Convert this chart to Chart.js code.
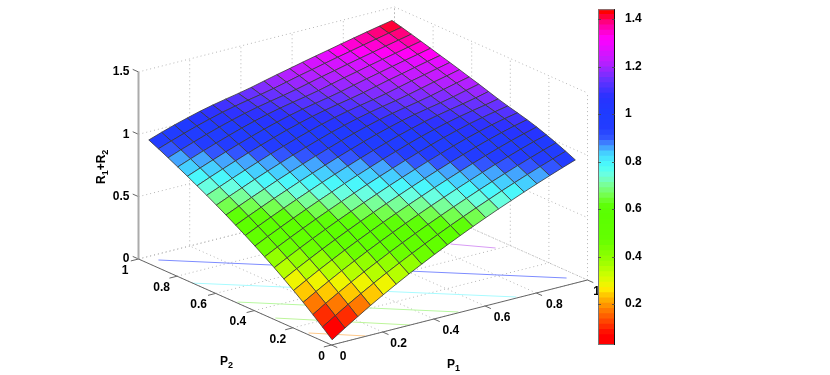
<!DOCTYPE html>
<html><head><meta charset="utf-8">
<style>
html,body{margin:0;padding:0;background:#fff;width:830px;height:375px;overflow:hidden}
canvas{position:absolute;top:0}
#main{left:0}
#bar{left:590px}
</style>
<script src="https://cdn.jsdelivr.net/npm/chart.js@4"></script>
</head><body>
<canvas id="main" width="830" height="375"></canvas>
<canvas id="bar" width="60" height="375"></canvas>
<script>
// ---- data ----
const p1Values = [0.01,0.06,0.11,0.16,0.21,0.26,0.31,0.36,0.41,0.46,0.51,0.56,0.61,0.66,0.71,0.76,0.81,0.86,0.91,0.96];
const p2Values = [0.01,0.06,0.11,0.16,0.21,0.26,0.31,0.36,0.41,0.46,0.51,0.56,0.61,0.66,0.71,0.76,0.81,0.86,0.91,0.96];
// rows: P2, columns: P1
const sumRate = [
[.030,.098,.163,.227,.287,.345,.401,.454,.506,.556,.604,.651,.696,.740,.782,.824,.864,.903,.941,.977],
[.098,.163,.227,.287,.345,.401,.454,.506,.556,.604,.651,.696,.740,.782,.824,.864,.903,.941,.977,1.012],
[.163,.227,.287,.345,.401,.454,.506,.556,.604,.651,.696,.740,.782,.824,.864,.903,.941,.977,1.012,1.045],
[.227,.287,.345,.401,.454,.506,.556,.604,.651,.696,.740,.782,.824,.864,.903,.941,.977,1.012,1.045,1.075],
[.287,.345,.401,.454,.506,.556,.604,.651,.696,.740,.782,.824,.864,.903,.941,.977,1.012,1.045,1.075,1.103],
[.345,.401,.454,.506,.556,.604,.651,.696,.740,.782,.824,.864,.903,.941,.977,1.012,1.045,1.075,1.103,1.127],
[.401,.454,.506,.556,.604,.651,.696,.740,.782,.824,.864,.903,.941,.977,1.012,1.045,1.075,1.103,1.127,1.148],
[.454,.506,.556,.604,.651,.696,.740,.782,.824,.864,.903,.941,.977,1.012,1.045,1.075,1.103,1.127,1.148,1.168],
[.506,.556,.604,.651,.696,.740,.782,.824,.864,.903,.941,.977,1.012,1.045,1.075,1.103,1.127,1.148,1.168,1.190],
[.556,.604,.651,.696,.740,.782,.824,.864,.903,.941,.977,1.012,1.045,1.075,1.103,1.127,1.148,1.168,1.190,1.215],
[.604,.651,.696,.740,.782,.824,.864,.903,.941,.977,1.012,1.045,1.075,1.103,1.127,1.148,1.168,1.190,1.215,1.240],
[.651,.696,.740,.782,.824,.864,.903,.941,.977,1.012,1.045,1.075,1.103,1.127,1.148,1.168,1.190,1.215,1.240,1.263],
[.696,.740,.782,.824,.864,.903,.941,.977,1.012,1.045,1.075,1.103,1.127,1.148,1.168,1.190,1.215,1.240,1.263,1.287],
[.740,.782,.824,.864,.903,.941,.977,1.012,1.045,1.075,1.103,1.127,1.148,1.168,1.190,1.215,1.240,1.263,1.287,1.310],
[.782,.824,.864,.903,.941,.977,1.012,1.045,1.075,1.103,1.127,1.148,1.168,1.190,1.215,1.240,1.263,1.287,1.310,1.332],
[.824,.864,.903,.941,.977,1.012,1.045,1.075,1.103,1.127,1.148,1.168,1.190,1.215,1.240,1.263,1.287,1.310,1.332,1.355],
[.864,.903,.941,.977,1.012,1.045,1.075,1.103,1.127,1.148,1.168,1.190,1.215,1.240,1.263,1.287,1.310,1.332,1.355,1.377],
[.903,.941,.977,1.012,1.045,1.075,1.103,1.127,1.148,1.168,1.190,1.215,1.240,1.263,1.287,1.310,1.332,1.355,1.377,1.399],
[.941,.977,1.012,1.045,1.075,1.103,1.127,1.148,1.168,1.190,1.215,1.240,1.263,1.287,1.310,1.332,1.355,1.377,1.399,1.420],
[.977,1.012,1.045,1.075,1.103,1.127,1.148,1.168,1.190,1.215,1.240,1.263,1.287,1.310,1.332,1.355,1.377,1.399,1.420,1.440]
];
// floor contours: level, then [P1,P2] ends as read
const contourLevels = [0.2,0.4,0.6,0.8,1.0,1.2];
const contourStart = [[0.01,0.132],[0.011,0.305],[0.006,0.495],[0.0,0.72],[0.044,0.955],[0.86,0.524]];
const contourEnd   = [[0.135,0.003],[0.306,0.002],[0.50,0.006],[0.728,0.008],[0.959,0.054],[0.95,0.41]];
const contourColors = ['#ffc98a','#bdf59a','#b8f8a0','#a8fbff','#7d8cff','#d89bf5'];

const p1Ticks = [0,0.2,0.4,0.6,0.8,1];
const p2Ticks = [0,0.2,0.4,0.6,0.8,1];
const zTicks = [0,0.5,1,1.5];
const cbTicks = [0.2,0.4,0.6,0.8,1,1.2,1.4];
const cbMin = 0.028, cbMax = 1.442;
// colormap stops: level, r, g, b
const cmapStops = [
[0.03,255,0,0],[0.07,255,0,0],[0.11,255,50,0],[0.175,255,125,0],[0.23,255,190,0],[0.265,255,240,0],
[0.32,205,255,0],[0.385,150,255,0],[0.47,100,255,0],[0.58,90,255,0],[0.62,95,255,10],[0.65,115,255,65],
[0.70,120,255,150],[0.74,110,255,220],[0.78,75,255,250],[0.83,70,215,255],[0.87,65,140,255],[0.90,50,85,255],[0.94,35,60,255],[1.0,30,60,255],
[1.07,40,50,255],[1.14,100,50,255],[1.22,190,30,255],[1.315,255,0,255],[1.35,255,0,200],[1.40,255,0,100],[1.42,255,0,0],[1.45,255,0,0]];

// ---- view ----
const view = {ox:331.5, oy:345, p1x:256, p1y:-65, p2x:-193, p2y:-86, zy:-124.7};
const project = (p1,p2,z)=>({x:view.ox+view.p1x*p1+view.p2x*p2, y:view.oy+view.p1y*p1+view.p2y*p2+view.zy*z});
const bands = 64;
function colorAt(z){
  const t = Math.min(bands-1, Math.max(0, Math.floor((z-cbMin)/(cbMax-cbMin)*bands)));
  const v = cbMin+(t+0.5)*(cbMax-cbMin)/bands;
  let a = cmapStops[0], b = cmapStops[cmapStops.length-1];
  for(let i=0;i<cmapStops.length-1;i++){ if(v>=cmapStops[i][0] && v<=cmapStops[i+1][0]){a=cmapStops[i];b=cmapStops[i+1];break;} }
  const f = b[0]>a[0]?Math.min(1,Math.max(0,(v-a[0])/(b[0]-a[0]))):0;
  return `rgb(${[1,2,3].map(k=>Math.round(a[k]+(b[k]-a[k])*f)).join(',')})`;
}

const line = (pts,color,width,dash)=>({type:'scatter',showLine:true,data:pts,borderColor:color,borderWidth:width,borderDash:dash||[],pointRadius:0,fill:false,tension:0,clip:false});
const datasets = [];
// surface: datasets listed first are drawn on top
for(let j=0;j<p2Values.length-1;j++){
  for(let i=0;i<p1Values.length-1;i++){
    const c=[[i,j],[i+1,j],[i+1,j+1],[i,j+1],[i,j]].map(([a,b])=>project(p1Values[a],p2Values[b],sumRate[b][a]));
    datasets.push({type:'scatter',showLine:true,data:c,backgroundColor:colorAt(sumRate[j][i]),borderColor:'rgba(55,55,55,0.8)',borderWidth:1,pointRadius:0,fill:'shape',tension:0,clip:false});
  }
}
// axis lines and ticks
const axisColor='#666', gridColor='#b5b5b5', dots=[1,3];
datasets.push(line([project(0,1,0),project(0,0,0),project(1,0,0)],axisColor,1));
datasets.push(line([project(0,1,0),project(0,1,1.5)],'#ababab',2));
p2Ticks.forEach(v=>datasets.push(line([project(0,v,0),project(-0.03,v,0)],axisColor,1)));
p1Ticks.forEach(v=>datasets.push(line([project(v,0,0),project(v,-0.03,0)],axisColor,1)));
zTicks.forEach(v=>datasets.push(line([project(0,1,v),project(0,1.03,v)],axisColor,1)));
// contours
contourLevels.forEach((lv,i)=>datasets.push(line([project(contourStart[i][0],contourStart[i][1],0),project(contourEnd[i][0],contourEnd[i][1],0)],contourColors[i],1)));
// grid
p1Ticks.forEach(v=>{
  datasets.push(line([project(v,0,0),project(v,1,0),project(v,1,1.5)],gridColor,1,dots));
});
p2Ticks.forEach(v=>{
  datasets.push(line([project(0,v,0),project(1,v,0),project(1,v,1.5)],gridColor,1,dots));
});
zTicks.forEach(v=>{
  datasets.push(line([project(0,1,v),project(1,1,v),project(1,0,v)],gridColor,1,dots));
});

const font = 'bold 12px "Liberation Sans", Arial, sans-serif';
const subFont = 'bold 9px "Liberation Sans", Arial, sans-serif';
function sub(ctx,parts,x,y){
  let cx=x;
  parts.forEach(([t,s])=>{
    ctx.font=s?subFont:font;
    ctx.fillText(t,cx,s?y+4:y);
    cx+=ctx.measureText(t).width;
  });
}
const p2LabelDx=[-10,-15,-16.5,-17,-15.5,-13.5], p1LabelDx=[11.5,16,17,17,18,9];
const labels = {
  id:'labels3d',
  afterDraw(chart){
    const {ctx,scales:{x,y}} = chart;
    const at=(pt,dx,dy)=>[x.getPixelForValue(pt.x)+dx,y.getPixelForValue(pt.y)+dy];
    ctx.save();
    ctx.fillStyle='#000';ctx.font=font;ctx.textBaseline='middle';ctx.textAlign='center';
    p2Ticks.forEach((v,i)=>{const [a,b]=at(project(0,v,0),p2LabelDx[i],11.5);ctx.fillText(String(v),a,b);});
    p1Ticks.forEach((v,i)=>{const [a,b]=at(project(v,0,0),p1LabelDx[i],12);ctx.fillText(String(v),a,b);});
    ctx.textAlign='right';
    zTicks.forEach(v=>{const [a,b]=at(project(0,1,v),-9,0);ctx.fillText(String(v),a,b);});
    ctx.textAlign='left';
    sub(ctx,[['P',0],['2',1]],220,362);
    sub(ctx,[['P',0],['1',1]],447,365);
    ctx.translate(102,184);ctx.rotate(-Math.PI/2);
    sub(ctx,[['R',0],['1',1],['+R',0],['2',1]],0,0);
    ctx.restore();
  }
};

new Chart(document.getElementById('main'),{
  type:'scatter',
  data:{datasets},
  options:{
    responsive:false,animation:false,
    layout:{padding:0},
    plugins:{legend:{display:false},tooltip:{enabled:false},filler:{propagate:false}},
    scales:{
      x:{type:'linear',min:0,max:830,display:false},
      y:{type:'linear',min:0,max:375,reverse:true,display:false}
    }
  },
  plugins:[labels]
});

// ---- colorbar ----
const cbDatasets=[];
for(let i=0;i<bands;i++){
  const lo=cbMin+i*(cbMax-cbMin)/bands, hi=cbMin+(i+1)*(cbMax-cbMin)/bands;
  cbDatasets.push({data:[[cbMin,hi]],backgroundColor:colorAt((lo+hi)/2),barPercentage:1,categoryPercentage:1,grouped:false,borderWidth:0});
}
const cbFrame={
  id:'cbFrame',
  afterDatasetsDraw(chart){
    const {ctx,chartArea:a,scales:{y}}=chart;
    ctx.save();
    ctx.lineWidth=1;
    ctx.strokeStyle='#777';
    ctx.beginPath();
    ctx.moveTo(a.left+.5,a.bottom);ctx.lineTo(a.left+.5,a.top+.5);ctx.lineTo(a.right,a.top+.5);
    ctx.moveTo(a.left,a.bottom-.5);ctx.lineTo(a.right,a.bottom-.5);
    ctx.stroke();
    ctx.strokeStyle='#111';
    ctx.beginPath();ctx.moveTo(a.right-.5,a.top);ctx.lineTo(a.right-.5,a.bottom);ctx.stroke();
    ctx.strokeStyle='rgba(70,70,70,.8)';
    cbTicks.forEach(v=>{
      const p=Math.round(y.getPixelForValue(v))+.5;
      ctx.beginPath();ctx.moveTo(a.left,p);ctx.lineTo(a.left+3,p);ctx.moveTo(a.right-3,p);ctx.lineTo(a.right,p);ctx.stroke();
    });
    ctx.restore();
  }
};
new Chart(document.getElementById('bar'),{
  type:'bar',
  data:{labels:['R1+R2'],datasets:cbDatasets},
  options:{
    responsive:false,animation:false,
    layout:{padding:{left:8,top:8,bottom:30,right:0}},
    plugins:{legend:{display:false},tooltip:{enabled:false}},
    scales:{
      x:{display:false,stacked:false},
      y:{position:'right',min:cbMin,max:cbMax,
         afterBuildTicks(s){s.ticks=cbTicks.map(value=>({value}));},
         afterFit(s){s.width=35;},
         grid:{display:false},border:{display:false},
         ticks:{color:'#000',padding:2,autoSkip:false,font:{family:'"Liberation Sans", Arial, sans-serif',weight:'bold',size:12},callback:v=>String(v)}}
    }
  },
  plugins:[cbFrame]
});
</script>
</body></html>
